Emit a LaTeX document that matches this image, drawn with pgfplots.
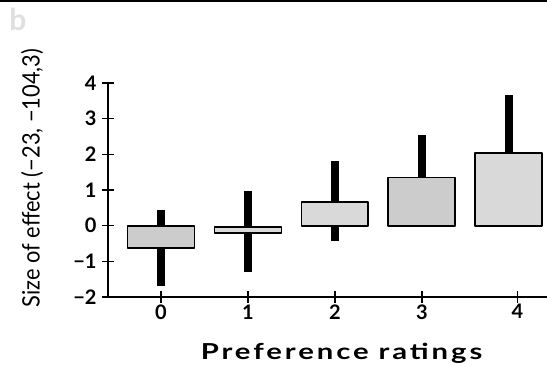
\documentclass[border=0pt]{standalone}
\usepackage{fontspec}
\setmainfont{Lato}
\usepackage{graphicx}
\usepackage{pgfplots}
\pgfplotsset{compat=1.18}
\begin{document}
\begin{tikzpicture}
\useasboundingbox (0,0) rectangle (547pt,366pt);
\draw[line width=1.5pt] (0,365pt) -- (547pt,365pt);
\node[text=gray!25, font=\fontsize{30}{30}\selectfont\bfseries] at (18pt,347pt) {b};
\begin{axis}[
  at={(108pt,69pt)}, anchor=south west,
  scale only axis, width=439pt, height=214pt,
  xmin=-0.61, xmax=4.44, ymin=-2, ymax=4,
  axis lines=left, axis line style={-, line width=1.4pt},
  tick align=center, major tick length=12pt,
  tick style={line width=1.4pt, black},
  xtick={0,1,2,3,4.1}, xticklabels={0,1,2,3,4},
  ytick={-2,-1,0,1,2,3,4}, yticklabels={−2,−1,0,1,2,3,4},
  ticklabel style={font=\fontsize{20}{20}\selectfont\bfseries},
  yticklabel style={xshift=-2pt},
  xticklabel style={yshift=2pt},
  xlabel={\scalebox{1.33}[1]{\addfontfeatures{LetterSpace=10}Preference ratings}},
  xlabel style={font=\fontsize{22}{22}\selectfont\bfseries, at={(axis description cs:0.532,-0.262)}, anchor=center},
  ylabel={\scalebox{0.91}[1]{Size of effect (−23, −104,3)}},
  ylabel style={font=\fontsize{24}{24}\selectfont, at={(axis description cs:-0.173,0.556)}, anchor=center, rotate=0},
  clip=false,
]
% whiskers (drawn behind the boxes)
\addplot[line width=8pt, black] coordinates {(0,0.45) (0,-1.68)};
\addplot[line width=8pt, black] coordinates {(1,0.97) (1,-1.29)};
\addplot[line width=8pt, black] coordinates {(2,1.81) (2,-0.44)};
\addplot[line width=8pt, black] coordinates {(3,2.53) (3,0.60)};
\addplot[line width=8pt, black] coordinates {(4,3.65) (4,1.00)};
% boxes
\addplot[fill=gray!40, draw=black, line width=1.8pt, line join=round] coordinates {(-0.385,-0.62) (0.385,-0.62) (0.385,0) (-0.385,0)} --cycle;
\addplot[fill=gray!30, draw=black, line width=1.8pt, line join=round] coordinates {(0.615,-0.20) (1.385,-0.20) (1.385,-0.03) (0.615,-0.03)} --cycle;
\addplot[fill=gray!30, draw=black, line width=1.8pt, line join=round] coordinates {(1.615,0) (2.385,0) (2.385,0.67) (1.615,0.67)} --cycle;
\addplot[fill=gray!40, draw=black, line width=1.8pt, line join=round] coordinates {(2.615,0) (3.385,0) (3.385,1.35) (2.615,1.35)} --cycle;
\addplot[fill=gray!30, draw=black, line width=1.8pt, line join=round] coordinates {(3.615,0) (4.385,0) (4.385,2.03) (3.615,2.03)} --cycle;
\end{axis}
\end{tikzpicture}
\end{document}
